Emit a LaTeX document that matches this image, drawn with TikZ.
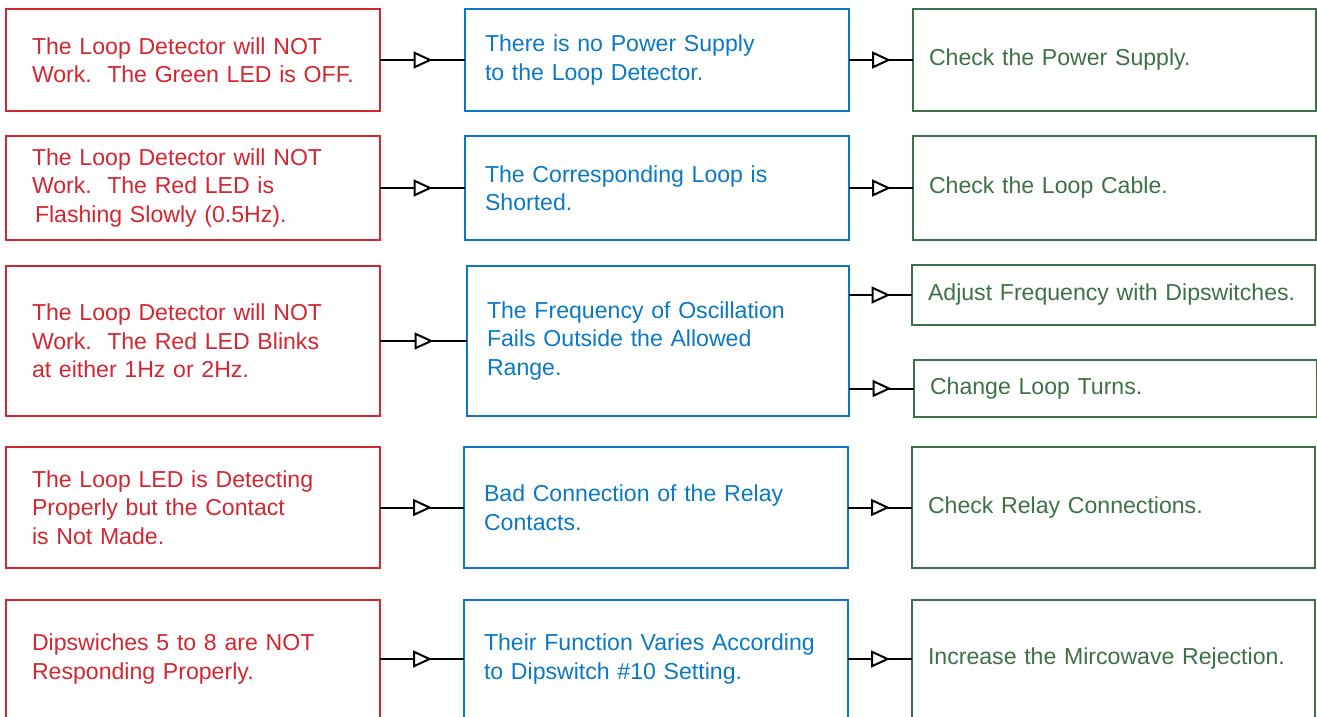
\documentclass[tikz,border=0pt]{standalone}
\usepackage{fontspec}
\setmainfont{Liberation Sans}
\usepackage{tikz}
\usetikzlibrary{arrows.meta,positioning,decorations.markings}
\definecolor{ldred}{RGB}{210,38,48}
\definecolor{ldblue}{RGB}{10,120,194}
\definecolor{ldgreen}{RGB}{62,112,72}

\begin{document}
\begin{tikzpicture}[x=1pt,y=-1pt,
  every node/.style={font=\fontsize{23.1}{28.5}\selectfont, execute at begin node={\hyphenpenalty=10000\relax}, align=left, line width=2.2pt, outer sep=0pt},
  redbox/.style={draw=ldred, text=ldred, inner xsep=26pt, text width=322pt, anchor=north west},
  bluebox/.style={draw=ldblue, text=ldblue, inner xsep=20pt, text width=344pt},
  greenbox/.style={draw=ldgreen, text=ldgreen, inner xsep=16pt, text width=371pt},
  link/.style={draw=black, line width=2pt, postaction={decorate},
    decoration={markings, mark=at position 0.5 with {\arrow[xshift=10pt]{Triangle[length=19pt,width=17pt,fill=white]}}}}]

\useasboundingbox (0,0) rectangle (1317,717);
\clip (0,0) rectangle (1317,717);

% causes
\node[redbox, minimum height=102pt] (r1) at (6,9) {The Loop Detector will NOT\\ Work.\ \ The Green LED is OFF.};
\node[redbox, minimum height=104pt] (r2) at (6,136) {The Loop Detector will NOT\\ Work.\ \ The Red LED is\\ \hspace*{3pt}Flashing Slowly (0.5Hz).};
\node[redbox, minimum height=150pt] (r3) at (6,266) {The Loop Detector will NOT\\ Work.\ \ The Red LED Blinks\\ at either 1Hz or 2Hz.};
\node[redbox, minimum height=121pt] (r4) at (6,447) {The Loop LED is Detecting\\ Properly but the Contact\\ is Not Made.};
\node[redbox, minimum height=118pt] (r5) at (6,600) {Dipswiches 5 to 8 are NOT\\ Responding Properly.};

% reasons
\node[bluebox, minimum height=102pt, right=85pt of r1] (b1) {There is no Power Supply\\ to the Loop Detector.};
\node[bluebox, minimum height=104pt, right=85pt of r2] (b2) {The Corresponding Loop is\\ Shorted.};
\node[bluebox, minimum height=150pt, text width=342pt, right=87pt of r3] (b3) {The Frequency of Oscillation\\ Fails Outside the Allowed\\ Range.};
\node[bluebox, minimum height=121pt, right=84pt of r4] (b4) {Bad Connection of the Relay\\ Contacts.};
\node[bluebox, minimum height=118pt, right=84pt of r5] (b5) {Their Function Varies According\\ to Dipswitch \#10 Setting.};

% remedies
\node[greenbox, minimum height=102pt, right=64pt of b1] (g1) {Check the Power Supply.};
\node[greenbox, minimum height=104pt, right=64pt of b2] (g2) {Check the Loop Cable.};
\node[greenbox, minimum height=60pt, anchor=north west] (g3a) at (912,265) {Adjust Frequency with Dipswitches.};
\node[greenbox, minimum height=57pt, anchor=north west] (g3b) at (914,360) {Change Loop Turns.};
\node[greenbox, minimum height=121pt, right=64pt of b4] (g4) {Check Relay Connections.};
\node[greenbox, minimum height=118pt, right=64pt of b5] (g5) {Increase the Mircowave Rejection.};

\foreach \i in {1,2,3,4,5}
{
\draw[link] (r\i) -- (b\i);
}
\foreach \i in {1,2,4,5}
{
\draw[link] (b\i) -- (g\i);
}
\draw[link] (b3.east |- g3a.west) -- (g3a.west);
\draw[link] (b3.east |- g3b.west) -- (g3b.west);
\end{tikzpicture}
\end{document}
